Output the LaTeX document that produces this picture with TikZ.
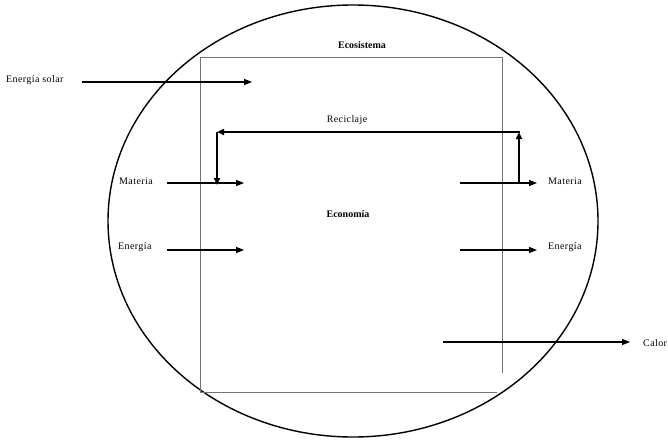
\documentclass[tikz,border=0pt]{standalone}
\usepackage{fontspec}
\setmainfont{Liberation Serif}
\usetikzlibrary{arrows.meta}
\begin{document}
\begin{tikzpicture}[x=1pt,y=-1pt,
  lbl/.style={inner sep=0pt,font=\fontsize{10}{12}\selectfont\addfontfeature{LetterSpace=4}},
  flow/.style={line width=1.1pt,-{Triangle[length=8pt,width=6pt]}},
  recy/.style={line width=2pt,-{Triangle[length=7pt,width=6pt]}},
  frame/.style={draw=black!55,line width=0.8pt}]
\useasboundingbox (0,0) rectangle (668,439);
% ecosystem ellipse
\draw[line width=1.4pt] (353,221) ellipse [x radius=245, y radius=216];
% economy frame (open corner at lower right)
\draw[frame] (502,373) -- (502,57) -- (200,57) -- (200,392) -- (497,392);
% labels
\node[lbl,font=\fontsize{10}{12}\selectfont\bfseries] (eco) at (362,45) {Ecosistema};
\node[lbl,font=\fontsize{10}{12}\selectfont\bfseries] (econ) at (348,214) {Economía};
\node[lbl,anchor=west] (sol) at (6,80) {Energía solar};
\node[lbl,anchor=west] (mat1) at (119,181) {Materia};
\node[lbl,anchor=west] (ene1) at (118,247) {Energía};
\node[lbl,anchor=west] (mat2) at (548,181) {Materia};
\node[lbl,anchor=west] (ene2) at (548,247) {Energía};
\node[lbl] (rec) at (347,120) {Reciclaje};
\node[lbl,anchor=west] (cal) at (643,343) {Calor};
% arrow endpoints
\coordinate (solA) at (82,82); \coordinate (solB) at (252,82);
\coordinate (m1A) at (167,183); \coordinate (m1B) at (244,183);
\coordinate (e1A) at (167,250); \coordinate (e1B) at (244,250);
\coordinate (m2A) at (460,183); \coordinate (m2B) at (537,183);
\coordinate (e2A) at (460,250); \coordinate (e2B) at (537,250);
\coordinate (calA) at (443,342); \coordinate (calB) at (630,342);
\coordinate (rR0) at (519,183); \coordinate (rR1) at (519,132);
\coordinate (rTop) at (520,132); \coordinate (rL1) at (217,132);
\coordinate (rL0) at (217,185);
% flows
\draw[flow] (solA) -- (solB);
\draw[flow] (m1A) -- (m1B);
\draw[flow] (e1A) -- (e1B);
\draw[flow] (m2A) -- (m2B);
\draw[flow] (e2A) -- (e2B);
\draw[flow] (calA) -- (calB);
% recycling loop
\draw[recy] (rR0) -- (rR1);
\draw[recy] (rTop) -- (rL1);
\draw[recy] (rL1) -- (rL0);
\end{tikzpicture}
\end{document}
